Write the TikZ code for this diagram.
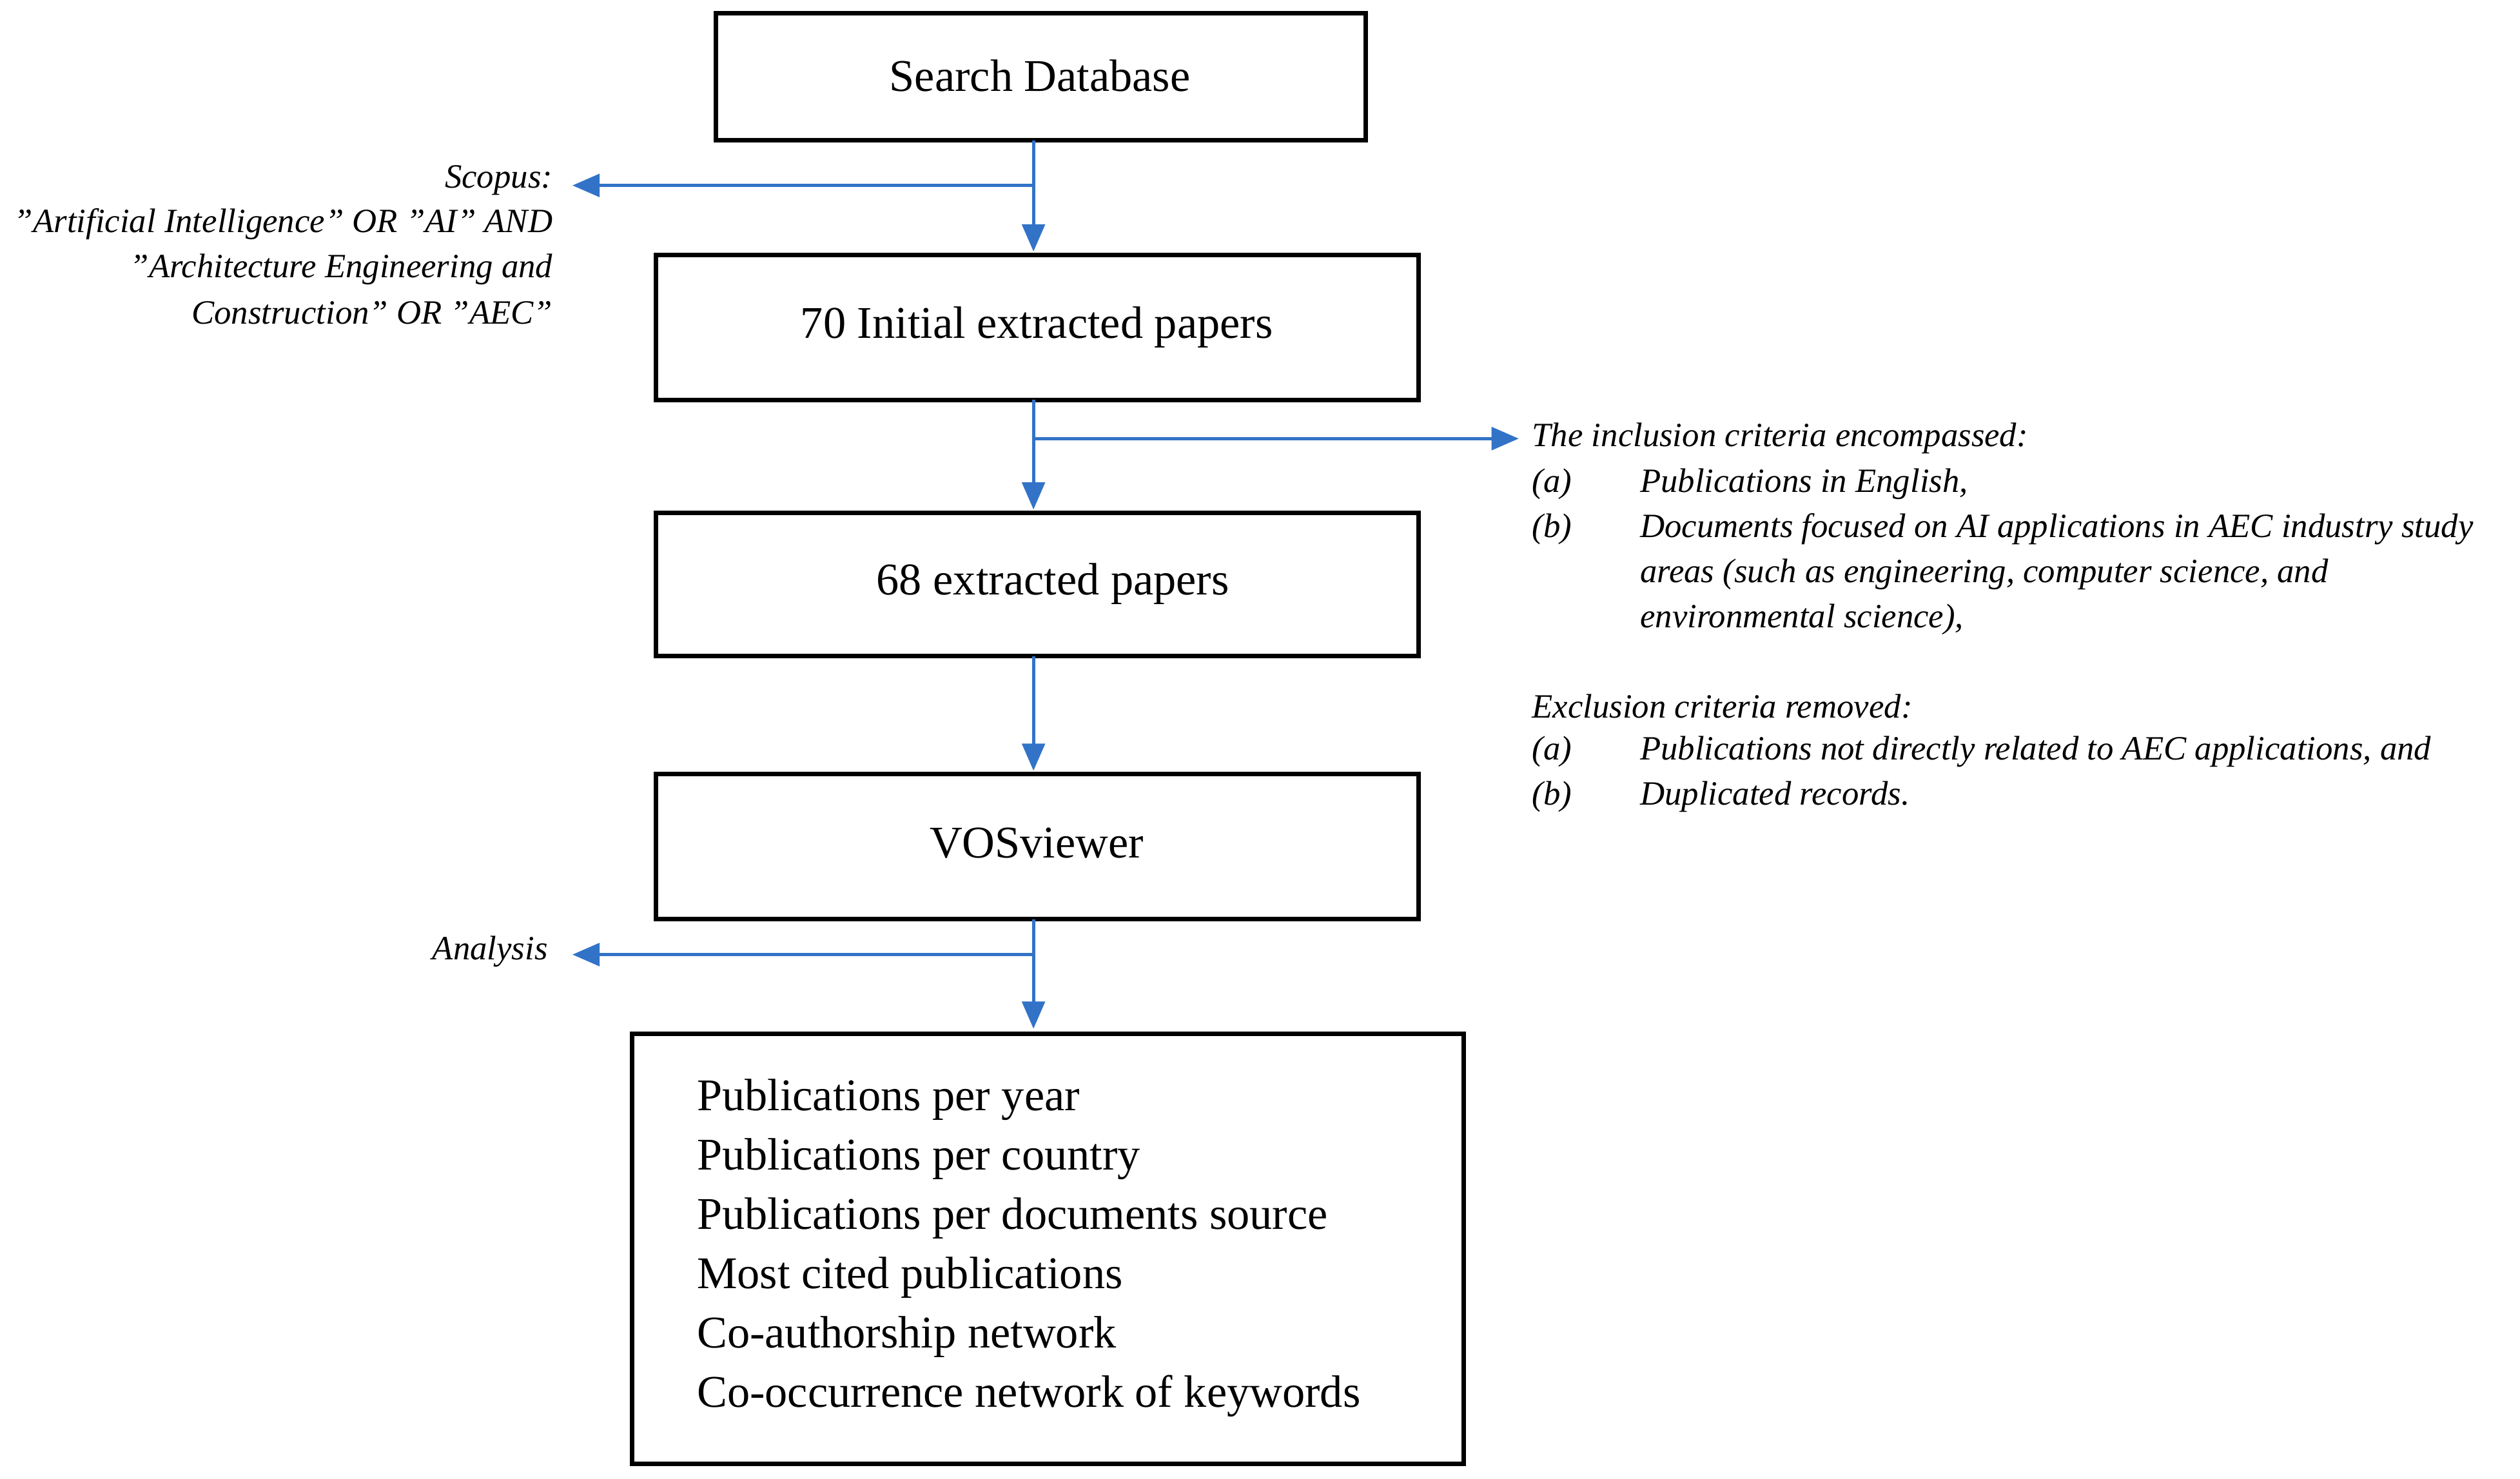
\documentclass[tikz,border=0pt]{standalone}
\usepackage{fontspec}
\setmainfont{Liberation Serif}
\usetikzlibrary{arrows.meta}
\definecolor{ab}{RGB}{50,115,200}
\begin{document}
\begin{tikzpicture}[x=0.025cm,y=-0.025cm,
 box/.style={draw,line width=2pt,inner sep=0},
 bt/.style={font=\fontsize{20}{24}\selectfont},
 it/.style={font=\fontsize{15}{18}\selectfont\itshape,inner sep=0},
 ar/.style={draw=ab,line width=1.5pt,-{Triangle[length=12pt,width=10pt]}}]
\useasboundingbox (0,0) rectangle (1563,917);
\draw[box] (444,8) rectangle (847,87);
\node[bt] (s) at (645,47) {Search Database};
\draw[box] (407,158) rectangle (880,248);
\node[bt] (n70) at (643,203) {70 Initial extracted papers};
\draw[box] (407,318) rectangle (880,407);
\node[bt] (n68) at (653,362) {68 extracted papers};
\draw[box] (407,480) rectangle (880,570);
\node[bt] (v) at (643,523) {VOSviewer};
\draw[box] (392,641) rectangle (908,908);
\coordinate (a1) at (641,87); \coordinate (a2) at (641,156);
\coordinate (b1) at (641,248); \coordinate (b2) at (641,316);
\coordinate (c1) at (641,407); \coordinate (c2) at (641,478);
\coordinate (d1) at (641,570); \coordinate (d2) at (641,638);
\coordinate (j1) at (641,115); \coordinate (e1) at (355,115);
\coordinate (j2) at (641,272); \coordinate (e2) at (942,272);
\coordinate (j3) at (641,592); \coordinate (e3) at (355,592);
\draw[ar] (a1)--(a2); \draw[ar] (b1)--(b2); \draw[ar] (c1)--(c2); \draw[ar] (d1)--(d2);
\draw[ar] (j1)--(e1); \draw[ar] (j2)--(e2); \draw[ar] (j3)--(e3);
\node[it,anchor=east] (l1) at (343,112) {Scopus:};
\node[it,anchor=east] (l2) at (343,139) {"Artificial Intelligence" OR "AI" AND};
\node[it,anchor=east] (l3) at (343,167) {"Architecture Engineering and};
\node[it,anchor=east] (l4) at (343,194) {Construction" OR "AEC"};
\node[it,anchor=east] (l5) at (340,590) {Analysis};
\node[it,anchor=west] (r1) at (950,272) {The inclusion criteria encompassed:};
\node[it,anchor=west] (r2a) at (950,300) {(a)};
\node[it,anchor=west] (r2) at (1017,300) {Publications in English,};
\node[it,anchor=west] (r3a) at (950,328) {(b)};
\node[it,anchor=west] (r3) at (1017,328) {Documents focused on AI applications in AEC industry study};
\node[it,anchor=west] (r4) at (1017,356) {areas (such as engineering, computer science, and};
\node[it,anchor=west] (r5) at (1017,384) {environmental science),};
\node[it,anchor=west] (r6) at (950,438) {Exclusion criteria removed:};
\node[it,anchor=west] (r7a) at (950,466) {(a)};
\node[it,anchor=west] (r7) at (1017,466) {Publications not directly related to AEC applications, and};
\node[it,anchor=west] (r8a) at (950,494) {(b)};
\node[it,anchor=west] (r8) at (1017,494) {Duplicated records.};
\foreach \t [count=\i] in {Publications per year,Publications per country,Publications per documents source,Most cited publications,Co-authorship network,Co-occurrence network of keywords}
 \node[bt,anchor=west,inner sep=0] (p\i) at (432,645+36.8*\i) {\t};
\end{tikzpicture}
\end{document}
